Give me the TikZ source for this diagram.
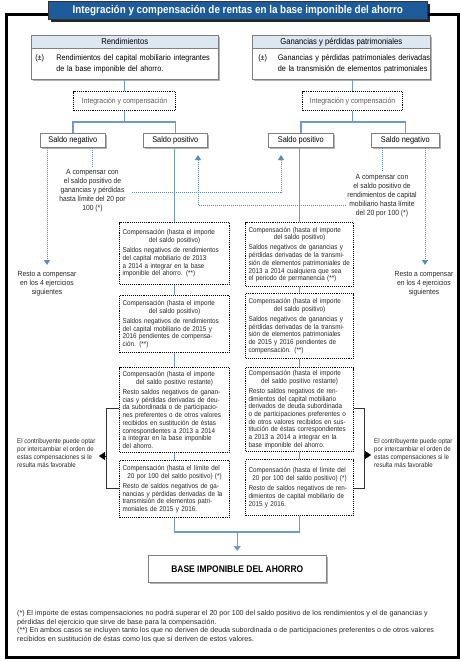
\documentclass[tikz,border=0pt]{standalone}
\usepackage{fontspec}
\setmainfont{Liberation Sans}
\newfontfamily\cnd[FakeStretch=0.9]{Liberation Sans}
\newfontfamily\cndb[FakeStretch=0.88]{Liberation Sans}
\usetikzlibrary{arrows.meta,shadows}
\definecolor{tblue}{HTML}{1E5B9A}
\definecolor{lblue}{HTML}{6E9CC4}
\definecolor{dblue}{HTML}{5A8CBF}
\definecolor{hblue}{HTML}{DCE7F2}
\newcommand\jln[1]{\hbox to\hsize{#1}}
\newcommand\lln[1]{\hbox{#1}}
\newcommand\cln[1]{\hbox to\hsize{\hfil#1\hfil}}
\newcommand\gp{\vskip2.5pt}
\begin{document}
\begin{tikzpicture}[x=1pt,y=-1pt,
  shd/.style={drop shadow={shadow xshift=2pt,shadow yshift=-2pt,fill=black!55,opacity=.55}},
  greybox/.style={draw=black!50,line width=.6pt,fill=white,shd,inner sep=0pt,anchor=north west},
  dotbox/.style={draw=black,densely dotted,line width=1.1pt,fill=white,anchor=north west,inner xsep=3pt,inner ysep=0pt,font=\cnd\fontsize{7}{7.7}\selectfont,text=black!85},
  conn/.style={draw=lblue,line width=1.6pt},
  dconn/.style={draw=dblue,densely dotted,line width=1pt},
  btip/.style={-{Triangle[length=5pt,width=6pt]}},
  ntext/.style={font=\cnd\fontsize{7.5}{9}\selectfont,text=black!85,align=center,inner sep=0pt},
  brtext/.style={font=\cnd\fontsize{6.8}{8}\selectfont,text=black!85,align=left,anchor=north west,inner sep=0pt}
]
\useasboundingbox (0,0) rectangle (462,662);
% frame and title
\node[draw=black,line width=2.5pt,minimum width=452pt,minimum height=643pt,anchor=north west,inner sep=0pt] (frame) at (5,13) {};
\node[fill=tblue,draw=black!80,line width=.6pt,anchor=north west,minimum width=379pt,minimum height=18pt,inner sep=0pt,text=white,
  font=\cndb\bfseries\fontsize{11.2}{12}\selectfont,
  drop shadow={shadow xshift=3pt,shadow yshift=-3pt,fill=black,opacity=.85}] (title) at (48,1)
  {Integración y compensación de rentas en la base imponible del ahorro};
% top boxes
\node[greybox,fill=hblue,minimum width=187pt,minimum height=13pt,font=\cnd\fontsize{8.5}{10}\selectfont] (rendH) at (31,35) {Rendimientos};
\node[greybox,minimum width=187pt,minimum height=31pt,text width=183pt,inner xsep=2pt,align=left,font=\cnd\fontsize{8.1}{11}\selectfont] (rendB) at (31,48)
  {\lln{\makebox[23pt][l]{\hspace{2pt}(±)}Rendimientos del capital mobiliario integrantes}\\\lln{\hspace*{23pt}de la base imponible del ahorro.}};
\node[greybox,fill=hblue,minimum width=178pt,minimum height=13pt,font=\cnd\fontsize{8.5}{10}\selectfont] (ganH) at (252,35) {Ganancias y pérdidas patrimoniales};
\node[greybox,minimum width=178pt,minimum height=31pt,text width=175pt,inner xsep=1.5pt,align=left,font=\cnd\fontsize{8.1}{11}\selectfont] (ganB) at (252,48)
  {\lln{\makebox[24pt][l]{\hspace{4.5pt}(±)}Ganancias y pérdidas patrimoniales derivadas}\\\lln{\hspace*{24pt}de la transmisión de elementos patrimoniales}};
% integration boxes
\node[dotbox,minimum width=102pt,minimum height=19pt,font=\cnd\fontsize{7.6}{9}\selectfont,text=black!65] (intL) at (73,91) {Integración y compensación};
\node[dotbox,minimum width=100pt,minimum height=19pt,font=\cnd\fontsize{7.6}{9}\selectfont,text=black!65] (intR) at (302,91) {Integración y compensación};
% saldo boxes
\node[greybox,minimum width=65pt,minimum height=14pt,font=\cnd\fontsize{8.2}{10}\selectfont] (snL) at (40,133) {Saldo negativo};
\node[greybox,minimum width=64pt,minimum height=14pt,font=\cnd\fontsize{8.2}{10}\selectfont] (spL) at (143,133) {Saldo positivo};
\node[greybox,minimum width=65pt,minimum height=14pt,font=\cnd\fontsize{8.2}{10}\selectfont] (spR) at (268,133) {Saldo positivo};
\node[greybox,minimum width=68pt,minimum height=14pt,font=\cnd\fontsize{8.2}{10}\selectfont] (snR) at (371,133) {Saldo negativo};
% connectors top
\coordinate (sy) at (0,122);
\draw[conn] (intL.north |- rendB.south) -- (intL.north);
\draw[conn] (intR.north |- ganB.south) -- (intR.north);
\draw[conn] (intL.south) -- (intL.south |- sy);
\draw[conn] (intR.south) -- (intR.south |- sy);
\draw[conn] (snL.north) -- (snL.north |- sy) -- (spL.north |- sy) -- (spL.north);
\draw[conn] (spR.north) -- (spR.north |- sy) -- (snR.north |- sy) -- (snR.north);
% compensation boxes
\node[dotbox,minimum width=110pt,minimum height=62pt,text width=104pt] (L1) at (119,222) {%
\jln{Compensación (hasta el importe}
\cln{del saldo positivo)}\gp
\jln{Saldos negativos de rendimientos}
\jln{del capital mobiliario de 2013}
\jln{a 2014 a integrar en la base}
\lln{imponible del ahorro. (**)}};
\node[dotbox,minimum width=110pt,minimum height=57pt,text width=104pt] (L2) at (119,295) {%
\jln{Compensación (hasta el importe}
\cln{del saldo positivo)}\gp
\jln{Saldos negativos de rendimientos}
\jln{del capital mobiliario de 2015 y}
\jln{2016 pendientes de compensa-}
\lln{ción. (**)}};
\node[dotbox,minimum width=110pt,minimum height=85pt,text width=104pt] (L3) at (119,367) {%
\jln{Compensación (hasta el importe}
\cln{del saldo positivo restante)}\gp
\jln{Resto saldos negativos de ganan-}
\jln{cias y pérdidas derivadas de deu-}
\jln{da subordinada o de participacio-}
\jln{nes preferentes o de otros valores}
\jln{recibidos en sustitución de éstas}
\jln{correspondientes a 2013 a 2014}
\jln{a integrar en la base imponible}
\lln{del ahorro.}};
\node[dotbox,minimum width=110pt,minimum height=57pt,text width=104pt] (L4) at (119,460) {%
\jln{Compensación (hasta el límite del}
\cln{20 por 100 del saldo positivo) (*)}\gp
\jln{Resto de saldos negativos de ga-}
\jln{nancias y pérdidas derivadas de la}
\jln{transmisión de elementos patri-}
\lln{moniales de 2015 y 2016.}};
\node[dotbox,minimum width=108pt,minimum height=64pt,text width=102pt] (R1) at (245,222) {%
\jln{Compensación (hasta el importe}
\cln{del saldo positivo)}\gp
\jln{Saldos negativos de ganancias y}
\jln{pérdidas derivadas de la transmi-}
\jln{sión de elementos patrimoniales de}
\jln{2013 a 2014 cualquiera que sea}
\lln{el periodo de permanencia (**)}};
\node[dotbox,minimum width=108pt,minimum height=65pt,text width=102pt] (R2) at (245,293) {%
\jln{Compensación (hasta el importe}
\cln{del saldo positivo)}\gp
\jln{Saldos negativos de ganancias y}
\jln{pérdidas derivadas de la transmi-}
\jln{sión de elementos patrimoniales}
\jln{de 2015 y 2016 pendientes de}
\lln{compensación. (**)}};
\node[dotbox,minimum width=108pt,minimum height=84pt,text width=102pt] (R3) at (245,367) {%
\jln{Compensación (hasta el importe}
\cln{del saldo positivo restante)}\gp
\jln{Resto saldos negativos de ren-}
\jln{dimientos del capital mobiliario}
\jln{derivados de deuda subordinada}
\jln{o de participaciones preferentes o}
\jln{de otros valores recibidos en sus-}
\jln{titución de éstas correspondientes}
\jln{a 2013 a 2014 a integrar en la}
\lln{base imponible del ahorro.}};
\node[dotbox,minimum width=108pt,minimum height=56pt,text width=102pt] (R4) at (245,459) {%
\jln{Compensación (hasta el límite del}
\cln{20 por 100 del saldo positivo) (*)}\gp
\jln{Resto de saldos negativos de ren-}
\jln{dimientos de capital mobiliario de}
\lln{2015 y 2016.}};
% vertical chains
\draw[conn] (L1.north |- spL.south) -- (L1.north);
\draw[conn] (R1.north |- spR.south) -- (R1.north);
\draw[conn] (L1.south) -- (L2.north);
\draw[conn] (L2.south) -- (L3.north);
\draw[conn] (L3.south) -- (L4.north);
\draw[conn] (R1.south) -- (R2.north);
\draw[conn] (R2.south) -- (R3.north);
\draw[conn] (R3.south) -- (R4.north);
% base
\node[greybox,minimum width=178pt,minimum height=27pt,font=\cndb\bfseries\fontsize{9.6}{12}\selectfont] (base) at (148,555) {BASE IMPONIBLE DEL AHORRO};
\coordinate (my) at (0,532);
\draw[conn] (L4.south) -- (L4.south |- my) -- (R4.south |- my) -- (R4.south);
\draw[conn,-{Triangle[length=5pt,width=7pt]},shorten >=4pt] (base.north |- my) -- (base.north);
% notes
\node[ntext] (lt) at (92.5,190.5) {A compensar con\\el saldo positivo de\\ganancias y pérdidas\\hasta límite del 20 por\\100 (*)};
\node[ntext] (rt) at (382,196) {A compensar con\\el saldo positivo de\\rendimientos de capital\\mobiliario hasta límite\\del 20 por 100 (*)};
\node[ntext,anchor=north] (restoL) at (47,271) {Resto a compensar\\en los 4 ejercicios\\siguientes};
\node[ntext,anchor=north] (restoR) at (424,271) {Resto a compensar\\en los 4 ejercicios\\siguientes};
% dotted connectors
\coordinate (rLtip) at (47,265);
\coordinate (rRtip) at (425,265);
\draw[dconn,btip] (snL.south -| rLtip) -- (rLtip);
\draw[dconn,btip] (snR.south -| rRtip) -- (rRtip);
\draw[dconn,shorten >=3pt] (snL.south -| lt.north) -- (lt.north);
\draw[dconn,shorten >=3pt] (snR.south -| rt.north) -- (rt.north);
\coordinate (ltc) at (132,192);
\coordinate (upR) at (281,155);
\coordinate (rtc) at (346,205);
\coordinate (upL) at (198,155);
\draw[dconn,btip] (ltc) -| (upR);
\draw[dconn,btip] (rtc) -| (upL);
% brackets
\coordinate (bLt) at (106,408);
\coordinate (bLb) at (106,488);
\coordinate (bLm) at (106,456);
\coordinate (bLa) at (99,456);
\draw[black!80,line width=.6pt] (L3.west |- bLt) -- (bLt) -- (bLb) -- (L4.west |- bLb);
\draw[black,-{Triangle[length=6pt,width=8pt]}] (bLm) -- (bLa);
\coordinate (bRt) at (364,408);
\coordinate (bRb) at (364,488);
\coordinate (bRm) at (364,455);
\coordinate (bRa) at (371,455);
\draw[black!80,line width=.6pt] (R3.east |- bRt) -- (bRt) -- (bRb) -- (R4.east |- bRb);
\draw[black,-{Triangle[length=6pt,width=8pt]}] (bRm) -- (bRa);
\node[brtext] (btL) at (17,438.5) {El contribuyente puede optar\\por intercambiar el orden de\\estas compensaciones si le\\resulta más favorable};
\node[brtext] (btR) at (374,438.5) {El contribuyente puede optar\\por intercambiar el orden de\\estas compensaciones si le\\resulta más favorable};
% footnotes
\node[font=\fontsize{7.15}{8.4}\selectfont,align=left,anchor=north west,inner sep=0pt,text=black!85] (foot) at (17,610.5) {(*) El importe de estas compensaciones no podrá superar el 20 por 100 del saldo positivo de los rendimientos y el de ganancias y\\pérdidas del ejercicio que sirve de base para la compensación.\\(**) En ambos casos se incluyen tanto los que no deriven de deuda subordinada o de participaciones preferentes o de otros valores\\recibidos en sustitución de éstas como los que sí deriven de estos valores.};
\end{tikzpicture}
\end{document}
